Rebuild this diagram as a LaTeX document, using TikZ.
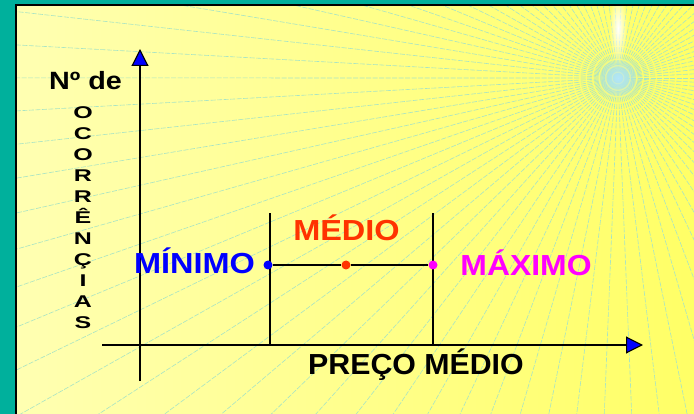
\documentclass[tikz,border=0pt]{standalone}
\usepackage{fontspec}
\setmainfont{Liberation Sans}
\usetikzlibrary{arrows.meta,fadings}
\tikzfading[name=glowfade, inner color=transparent!0, outer color=transparent!100]
\definecolor{teal0}{HTML}{00B09C}
\definecolor{paleY}{HTML}{FFFFB2}
\definecolor{brightY}{HTML}{FFFF66}
\definecolor{rayC}{HTML}{A8E4C4}
\definecolor{medC}{HTML}{FF3300}
\definecolor{maxC}{HTML}{FF00FF}
\tikzset{
  axis/.style={line width=1.1pt, draw=black, -{Triangle[width=17pt,length=17pt,fill=blue]}},
  bar/.style={line width=1.1pt, draw=black},
  ray/.style={draw=rayC, line width=0.6pt, dash pattern=on 5pt off 1.5pt},
  dot/.style={circle, inner sep=0pt, minimum size=9pt},
  lbl/.style={font=\fontsize{29}{29}\selectfont\bfseries, inner sep=0pt, anchor=base},
  vlet/.style={inner sep=0pt, anchor=base},
}
\begin{document}
\begin{tikzpicture}[x=1pt,y=-1pt]
\useasboundingbox (0,0) rectangle (694,414);
% frame
\fill[teal0] (0,0) rectangle (694,414);
\shade[left color=paleY, right color=brightY] (16,5) rectangle (694,414);
\begin{scope}
  \clip (16,5) rectangle (694,414);
  \coordinate (ctr) at (618,78);
  \foreach \myang in {0,1,...,93}
    \draw[ray] (ctr) -- ++({1098*cos(\myang*3.83)},{900*sin(\myang*3.83)});
  \fill[cyan!30!white, path fading=glowfade] (ctr) circle (22);
  \fill[white, path fading=glowfade] (618,28) ellipse (9 and 36);
\end{scope}
\draw[line width=1.4pt] (16,414) -- (16,5) -- (694,5);
% axes
\coordinate (yb) at (140,381);
\coordinate (yt) at (140,49);
\coordinate (xl) at (102,345);
\coordinate (xr) at (643,345);
\draw[axis] (yb) -- (yt);
\draw[axis] (xl) -- (xr);
% range bars
\coordinate (v1b) at (270,345);
\coordinate (v1t) at (270,213);
\coordinate (v2b) at (433,345);
\coordinate (v2t) at (433,213);
\draw[bar] (v1b) -- (v1t);
\draw[bar] (v2b) -- (v2t);
\node[dot, fill=blue] (dmin) at (268,265) {};
\node[dot, fill=medC] (dmed) at (346,265) {};
\node[dot, fill=maxC] (dmax) at (433,265) {};
\draw[bar] (dmin) -- (dmed) -- (dmax);
% labels
\node[lbl, text=blue] (tmin) at (194.5,274) {\scalebox{1.12}[1]{MÍNIMO}};
\node[lbl, text=medC] (tmed) at (346.5,241) {\scalebox{1.12}[1]{MÉDIO}};
\node[lbl, text=maxC] (tmax) at (526,276) {\scalebox{1.1}[1]{MÁXIMO}};
\node[lbl, text=black] (tpm) at (416,374) {\scalebox{1.045}[1]{PREÇO MÉDIO}};
\node[inner sep=0pt, anchor=base west, font=\fontsize{25}{25}\selectfont\bfseries] (nde) at (49,90) {\scalebox{1.15}[1]{Nº de}};
\foreach \c [count=\i from 0] in {O,C,O,R,R,Ê,N,Ç,I,A,S}
  \node[vlet] (L\i) at (83,119+21*\i) {\scalebox{1}[0.68]{\fontsize{25}{25}\selectfont\bfseries \c}};
\end{tikzpicture}
\end{document}
